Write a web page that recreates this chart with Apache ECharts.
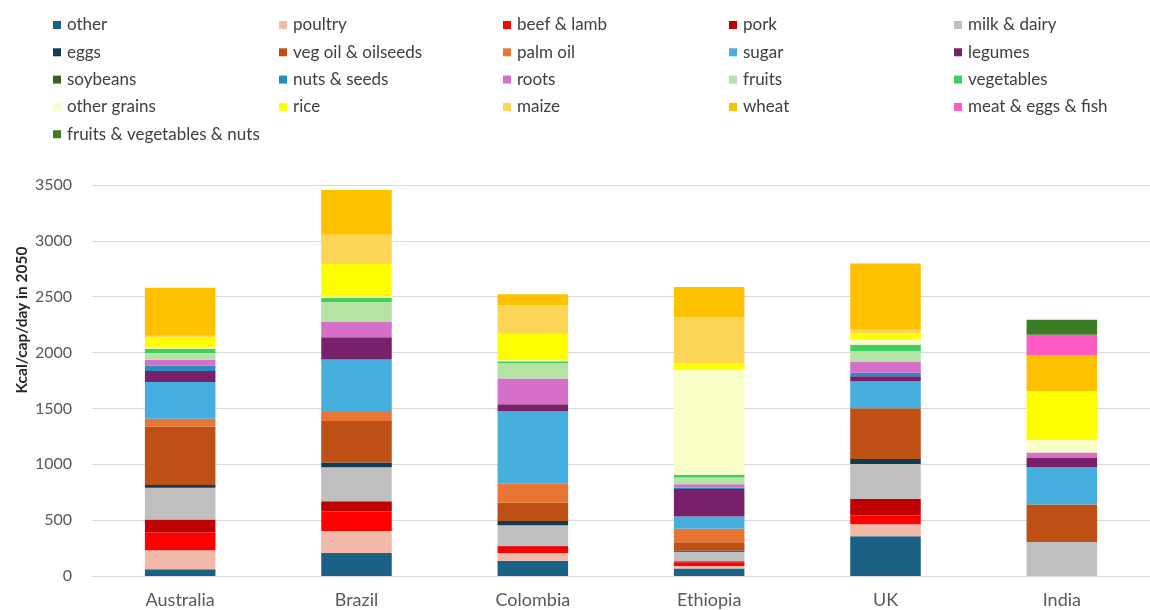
<!DOCTYPE html>
<html>
<head>
<meta charset="utf-8">
<title>Kcal/cap/day in 2050</title>
<script src="https://cdn.jsdelivr.net/npm/echarts@6/dist/echarts.min.js"></script>
<style>
  html, body { margin: 0; padding: 0; background: #ffffff; overflow: hidden; }
  #chart { width: 1150px; height: 610px; }
</style>
</head>
<body>
<div id="chart"></div>
<script>
// Countries on the category axis
const countries = ['Australia', 'Brazil', 'Colombia', 'Ethiopia', 'UK', 'India'];

// Y axis ticks
const yMin = 0;
const yMax = 3500;
const yStep = 500;

// Food groups, stacked from the bottom up (kcal/cap/day in 2050)
const other        = [60, 207, 136, 68, 356, 0];
const poultry      = [170, 196, 71, 21, 107, 0];
const beefLamb     = [160, 175, 55, 33, 80, 0];
const pork         = [115, 92, 8, 10, 149, 0];
const milkDairy    = [285, 303, 184, 86, 311, 305];
const eggs         = [24, 42, 38, 10, 45, 0];
const vegOil       = [525, 373, 164, 75, 453, 336];
const palmOil      = [68, 80, 169, 120, 0, 0];
const sugar        = [330, 470, 652, 110, 243, 332];
const legumes      = [97, 200, 60, 246, 45, 83];
const soybeans     = [0, 0, 0, 0, 0, 0];
const nutsSeeds    = [51, 0, 0, 13, 30, 0];
const roots        = [50, 136, 231, 30, 97, 50];
const fruits       = [62, 178, 137, 60, 95, 0];
const vegetables   = [36, 36, 17, 24, 60, 0];
const otherGrains  = [10, 15, 10, 940, 44, 111];
const rice         = [92, 290, 237, 58, 59, 438];
const maize        = [15, 262, 252, 410, 30, 0];
const wheat        = [430, 400, 100, 273, 593, 318];
const meatEggsFish = [0, 0, 0, 0, 0, 187];
const fruitVegNuts = [0, 0, 0, 0, 0, 133];

const groups = [
  ['other', other, '#1B6185'],
  ['poultry', poultry, '#F2BAA9'],
  ['beef & lamb', beefLamb, '#FF0000'],
  ['pork', pork, '#C00000'],
  ['milk & dairy', milkDairy, '#BFBFBF'],
  ['eggs', eggs, '#0F3B56'],
  ['veg oil & oilseeds', vegOil, '#BF5015'],
  ['palm oil', palmOil, '#EA7433'],
  ['sugar', sugar, '#46AFDF'],
  ['legumes', legumes, '#79206A'],
  ['soybeans', soybeans, '#36621F'],
  ['nuts & seeds', nutsSeeds, '#2A8BC0'],
  ['roots', roots, '#D56FC8'],
  ['fruits', fruits, '#B4E3A3'],
  ['vegetables', vegetables, '#40D062'],
  ['other grains', otherGrains, '#F9FDC8'],
  ['rice', rice, '#FFFF00'],
  ['maize', maize, '#FDD657'],
  ['wheat', wheat, '#FFC000'],
  ['meat & eggs & fish', meatEggsFish, '#FF5BC5'],
  ['fruits & vegetables & nuts', fruitVegNuts, '#3B7D25']
];

const series = groups.map(([name, values, color]) => ({
  name: name,
  type: 'bar',
  stack: 'kcal',
  data: values,
  barCategoryGap: '60%',
  itemStyle: { color: color },
  emphasis: { disabled: true }
}));

// Legend laid out in five columns, filled row by row
const legendColumns = 5;
const legendLeft = [53, 279, 503, 729, 954];
const legends = [];
for (let c = 0; c < legendColumns; c++) {
  const names = groups.filter((g, i) => i % legendColumns === c).map(g => g[0]);
  legends.push({
    data: names,
    orient: 'vertical',
    left: legendLeft[c],
    top: 15,
    padding: 0,
    itemWidth: 8,
    itemHeight: 8,
    itemGap: 7.3,
    icon: 'rect',
    selectedMode: false,
    textStyle: {
      fontFamily: 'Lato',
      fontSize: 17,
      color: '#404040',
      lineHeight: 20,
      padding: [0, 0, 0, 1]
    }
  });
}

const chart = echarts.init(document.getElementById('chart'), null, { renderer: 'canvas' });
chart.setOption({
  animation: false,
  backgroundColor: '#ffffff',
  textStyle: { fontFamily: 'Lato' },
  legend: legends,
  grid: { left: 92, width: 1071, top: 185, bottom: 34 },
  xAxis: {
    type: 'category',
    data: countries,
    axisLine: { lineStyle: { color: '#D9D9D9', width: 1 } },
    axisTick: { show: false },
    axisLabel: { color: '#595959', fontSize: 18, margin: 15, fontFamily: 'Lato' }
  },
  yAxis: {
    type: 'value',
    min: yMin,
    max: yMax,
    interval: yStep,
    axisLine: { show: false },
    axisTick: { show: false },
    splitLine: { lineStyle: { color: '#D9D9D9', width: 1 } },
    axisLabel: {
      color: '#595959',
      fontSize: 16,
      margin: 20,
      fontFamily: 'Lato',
      formatter: v => String(v)
    }
  },
  graphic: [{
    type: 'text',
    x: 22,
    y: 320,
    rotation: Math.PI / 2,
    style: {
      text: 'Kcal/cap/day in 2050',
      fontFamily: 'Lato',
      fontSize: 15.5,
      fontWeight: 'bold',
      fill: '#262626',
      textAlign: 'center',
      textVerticalAlign: 'middle'
    }
  }],
  series: series
});
</script>
</body>
</html>
